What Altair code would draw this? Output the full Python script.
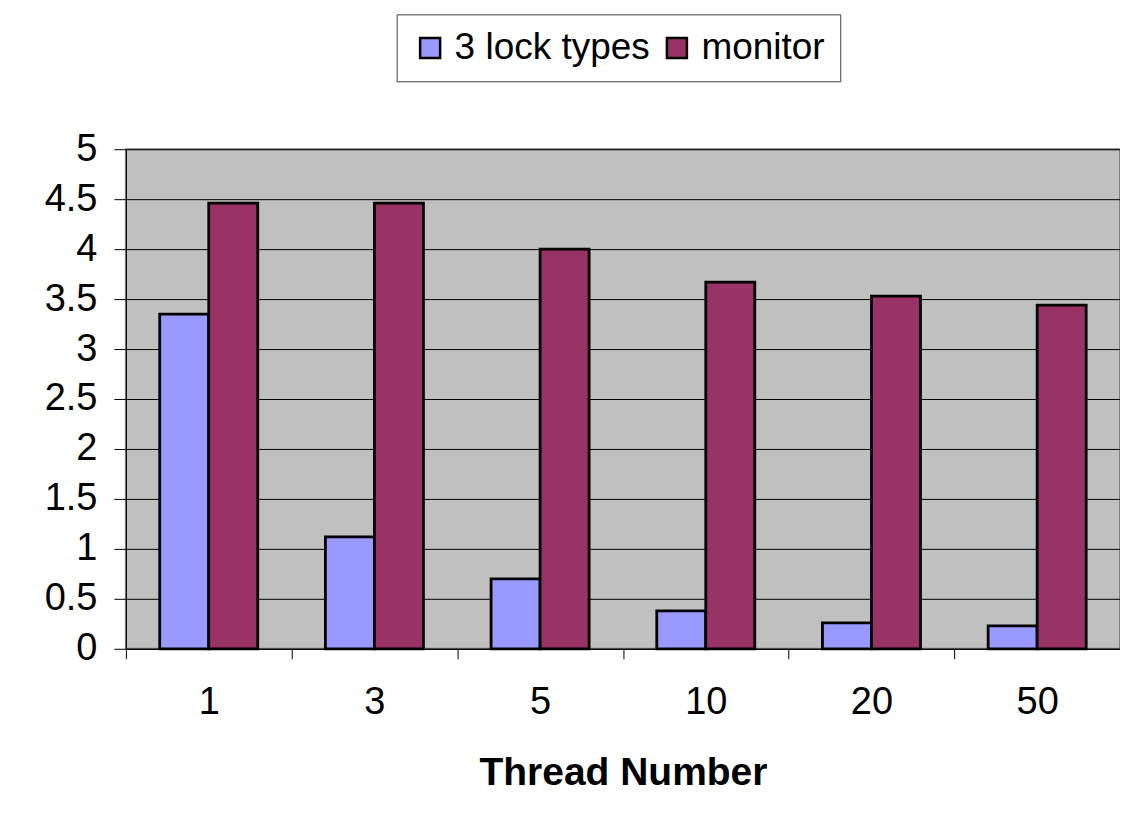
import altair as alt
import pandas as pd

threads = ["1", "3", "5", "10", "20", "50"]
series = ["3 lock types", "monitor"]
lock3 = [3.35, 1.12, 0.70, 0.38, 0.26, 0.23]
monitor = [4.46, 4.46, 4.00, 3.67, 3.53, 3.44]

rows = []
for t, a, b in zip(threads, lock3, monitor):
    rows.append({"threads": t, "series": series[0], "value": a})
    rows.append({"threads": t, "series": series[1], "value": b})
df = pd.DataFrame(rows)

FONT = "Liberation Sans"

chart = alt.Chart(df).mark_bar(stroke="black", strokeWidth=2.8).encode(
    x=alt.X(
        "threads:N",
        sort=threads,
        scale=alt.Scale(paddingInner=0, paddingOuter=0),
        axis=alt.Axis(
            title="Thread Number",
            titleFont=FONT,
            titleFontSize=39,
            titleFontWeight="bold",
            titleColor="black",
            titlePadding=32,
            labelFont=FONT,
            labelFontSize=38,
            labelColor="black",
            labelAngle=0,
            labelPadding=25,
            tickBand="extent",
            tickSize=10,
            tickColor="black",
            domainColor="black",
            grid=False,
        ),
    ),
    xOffset=alt.XOffset(
        "series:N",
        sort=series,
        scale=alt.Scale(paddingInner=0, paddingOuter=0.69),
    ),
    y=alt.Y(
        "value:Q",
        scale=alt.Scale(domain=[0, 5], nice=False),
        axis=alt.Axis(
            title=None,
            values=[0, 0.5, 1, 1.5, 2, 2.5, 3, 3.5, 4, 4.5, 5],
            format="~g",
            labelFont=FONT,
            labelFontSize=38,
            labelColor="black",
            labelPadding=17,
            tickSize=12,
            tickColor="black",
            domainColor="black",
            grid=True,
            gridColor="black",
            gridWidth=1,
            gridOpacity=1,
        ),
    ),
    color=alt.Color(
        "series:N",
        sort=series,
        scale=alt.Scale(domain=series, range=["#9999FF", "#993366"]),
        legend=alt.Legend(
            title=None,
            orient="none",
            direction="horizontal",
            legendX=271,
            legendY=-135,
            fillColor="white",
            strokeColor="#404040",
            padding=15,
            symbolType="square",
            symbolSize=400,
            symbolStrokeColor="black",
            symbolStrokeWidth=2.5,
            symbolOpacity=1,
            labelFont=FONT,
            labelFontSize=37,
            labelColor="black",
            labelOffset=6,
            labelLimit=400,
            columnPadding=8,
        ),
    ),
).properties(
    width=995,
    height=500,
    padding={"left": 118, "top": 141, "right": 0, "bottom": 150},
    autosize=alt.AutoSizeParams(type="none"),
    background="white",
).configure_view(
    fill="#C0C0C0",
    stroke="#808080",
    strokeWidth=2,
)

chart.save("out.html", embed_options={"renderer": "svg", "actions": False})
